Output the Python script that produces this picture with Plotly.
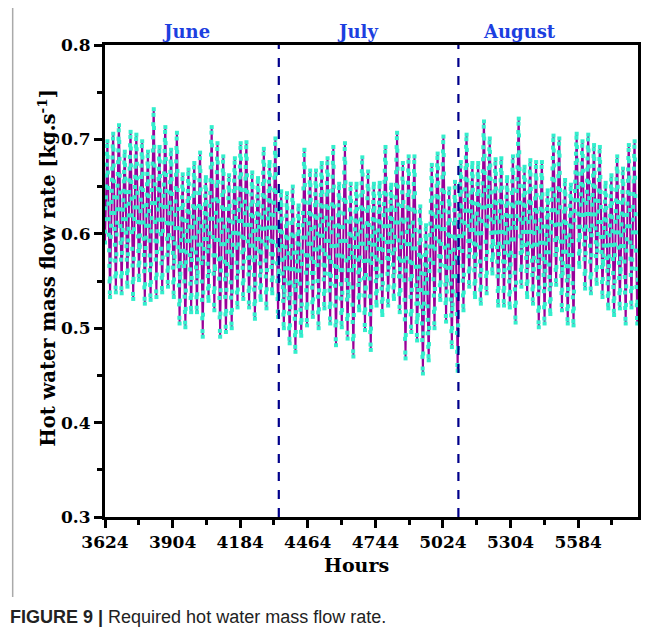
import plotly.graph_objects as go

# ---------------- data ----------------
start_hour = 3624
hours_per_day = 24

# daily peak values (one per day, June 1 .. Aug 31)
daily_max = [
    0.698, 0.706, 0.715, 0.687, 0.708, 0.705, 0.698, 0.687, 0.732, 0.692,
    0.713, 0.689, 0.707, 0.663, 0.668, 0.675, 0.686, 0.660,
    0.713, 0.696, 0.682, 0.662, 0.680, 0.696, 0.697, 0.665, 0.659, 0.690,
    0.676, 0.701, 0.645, 0.643, 0.650, 0.630, 0.689, 0.667, 0.667,
    0.675, 0.680, 0.692, 0.653, 0.696, 0.653, 0.653, 0.681, 0.666, 0.653,
    0.654, 0.692, 0.652, 0.707, 0.675, 0.682, 0.682, 0.629,
    0.609, 0.673, 0.685, 0.703, 0.648, 0.655, 0.676, 0.705, 0.675, 0.675,
    0.719, 0.701, 0.679, 0.680, 0.660, 0.682, 0.722, 0.671, 0.678,
    0.676, 0.676, 0.646, 0.704, 0.701, 0.657, 0.652, 0.706, 0.698, 0.705,
    0.694, 0.692, 0.654, 0.662, 0.682, 0.669, 0.694, 0.698,
]

# daily trough values
daily_min = [
    0.533, 0.538, 0.537, 0.544, 0.531, 0.551, 0.526, 0.530, 0.533, 0.538,
    0.544, 0.533, 0.505, 0.501, 0.517, 0.517, 0.491, 0.529,
    0.519, 0.491, 0.496, 0.500, 0.522, 0.531, 0.522, 0.510, 0.530, 0.521,
    0.537, 0.512, 0.500, 0.484, 0.475, 0.492, 0.503, 0.512,
    0.500,
    0.521, 0.505, 0.482, 0.501, 0.489, 0.470, 0.519, 0.498, 0.477, 0.524,
    0.514, 0.524, 0.531, 0.517, 0.468, 0.496, 0.487, 0.452,
    0.466, 0.500, 0.530, 0.507, 0.480, 0.455, 0.519, 0.544, 0.533, 0.526,
    0.537, 0.558, 0.524, 0.524, 0.522, 0.506, 0.544, 0.533, 0.526,
    0.501, 0.505, 0.515, 0.546, 0.519, 0.505, 0.503, 0.565, 0.542, 0.537,
    0.547, 0.533, 0.521, 0.514, 0.521, 0.505, 0.522, 0.505,
]

# typical shape of one day (share of the daily swing above the trough), hour 0..23
hour_profile = [
    0.35, 0.42, 0.50, 0.57, 0.64, 0.71, 0.78, 0.85, 0.92, 0.97, 1.00, 0.90,
    0.80, 0.70, 0.60, 0.50, 0.40, 0.30, 0.20, 0.10, 0.03, 0.00, 0.12, 0.24,
]

month_starts = [4344, 5088]
month_names = ["June", "July", "August"]
month_label_hours = [3961, 4671, 5342]

x_ticks = [3624, 3904, 4184, 4464, 4744, 5024, 5304, 5584]
y_ticks = [0.3, 0.4, 0.5, 0.6, 0.7, 0.8]
x_range = [3624, 5832]
y_range = [0.3, 0.8]

# ---------------- hourly series built from the daily values ----------------
hours = []
flow = []
for d, (lo, hi) in enumerate(zip(daily_min, daily_max)):
    for h, p in enumerate(hour_profile):
        hours.append(start_hour + d * hours_per_day + h)
        flow.append(lo + p * (hi - lo))

SERIF = "DejaVu Serif"
fig = go.Figure()

fig.add_trace(go.Scatter(
    x=hours, y=flow, mode="lines+markers",
    line=dict(color="#990099", width=2),
    marker=dict(symbol="square", size=4, color="#33eecc", line=dict(width=0)),
    showlegend=False, hoverinfo="skip",
))

for m in month_starts:
    fig.add_trace(go.Scatter(
        x=[m, m], y=y_range, mode="lines",
        line=dict(color="#00008b", width=2.2, dash="dash"),
        showlegend=False, hoverinfo="skip",
    ))

fig.update_xaxes(
    range=x_range, tickmode="array", tickvals=x_ticks,
    ticktext=[str(t) for t in x_ticks],
    ticks="outside", ticklen=8, tickwidth=2.5, tickcolor="black",
    minor=dict(dtick=140, tick0=3624, ticks="outside", ticklen=5, tickwidth=2.5, tickcolor="black"),
    showline=True, linecolor="black", linewidth=3, mirror=True,
    showgrid=False, zeroline=False,
    tickfont=dict(family=SERIF, size=17, color="black", weight="bold"),
)
fig.update_yaxes(
    range=y_range, tickmode="array", tickvals=y_ticks,
    ticktext=[f"{t:.1f}" for t in y_ticks],
    ticks="outside", ticklen=8, tickwidth=2.5, tickcolor="black",
    minor=dict(dtick=0.05, tick0=0.3, ticks="outside", ticklen=5, tickwidth=2.5, tickcolor="black"),
    showline=True, linecolor="black", linewidth=3, mirror=True,
    showgrid=False, zeroline=False,
    tickfont=dict(family=SERIF, size=17, color="black", weight="bold"),
)

annotations = []
for name, hx in zip(month_names, month_label_hours):
    annotations.append(dict(
        x=hx, y=1.028, xref="x", yref="paper", text=name, showarrow=False,
        font=dict(family=SERIF, size=18, color="#1d3fe0", weight="bold"),
        xanchor="center", yanchor="middle",
    ))
annotations.append(dict(
    x=0.471, y=-0.102, xref="paper", yref="paper", text="Hours", showarrow=False,
    font=dict(family=SERIF, size=19, color="black", weight="bold"),
    xanchor="center", yanchor="middle",
))
annotations.append(dict(
    x=-0.109, y=0.528, xref="paper", yref="paper",
    text="Hot water mass flow rate [kg.s<sup>-1</sup>]", showarrow=False, textangle=-90,
    font=dict(family=SERIF, size=19.5, color="black", weight="bold"),
    xanchor="center", yanchor="middle",
))
annotations.append(dict(
    x=-0.182, y=-0.212, xref="paper", yref="paper",
    text="<b>FIGURE 9 |</b> Required hot water mass flow rate.", showarrow=False,
    font=dict(family="Liberation Sans", size=18, color="#222222"),
    xanchor="left", yanchor="middle",
))

# the page adds an 8 px body margin, so the figure is 8 px smaller and margins shifted
fig.update_layout(
    width=655, height=627,
    margin=dict(l=97, r=25, t=37, b=118),
    paper_bgcolor="white", plot_bgcolor="white",
    annotations=annotations,
    shapes=[dict(
        type="path", xref="paper", yref="paper",
        path="M -0.1732 -0.1695 L -0.1732 1.0826 L 1.05 1.0826",
        line=dict(color="#aaaaaa", width=1.5),
    )],
)

fig.write_html("out.html")
